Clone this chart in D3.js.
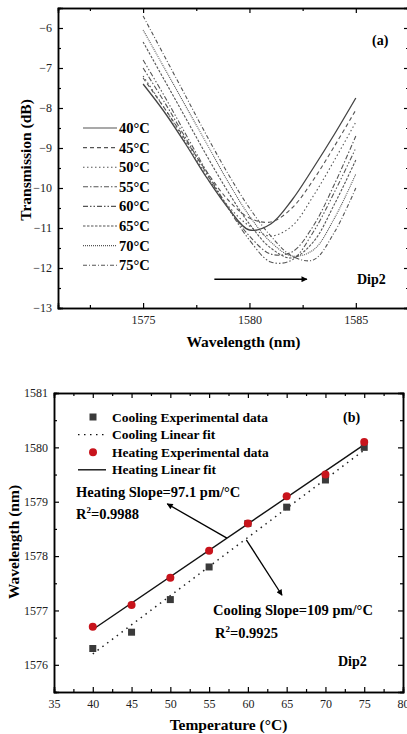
<!DOCTYPE html>
<html>
<head>
<meta charset="utf-8">
<script src="https://cdn.jsdelivr.net/npm/d3@7"></script>
<style>
  body { margin: 0; background: #fff; }
  svg text { font-family: "Liberation Serif", "Times New Roman", serif; }
</style>
</head>
<body>
<div id="chart"></div>
<script>
// ---- data panel (a): transmission spectra
const wavelengths = [1575, 1576, 1577, 1578, 1579, 1580, 1581, 1582, 1583, 1584, 1585]
const tempLabels = ["40°C", "45°C", "50°C", "55°C", "60°C", "65°C", "70°C", "75°C"]
const t40 = [-7.4, -8.1, -8.9, -9.75, -10.5, -11.05, -10.9, -10.3, -9.5, -8.65, -7.75]
const t45 = [-7.25, -8.0, -8.8, -9.6, -10.3, -10.75, -10.85, -10.5, -9.8, -8.95, -8.05]
const t50 = [-7.2, -8.0, -8.85, -9.7, -10.45, -10.95, -11.2, -10.95, -10.2, -9.3, -8.35]
const t55 = [-7.0, -7.85, -8.75, -9.65, -10.5, -11.2, -11.65, -11.6, -10.95, -9.9, -8.7]
const t60 = [-6.8, -7.7, -8.65, -9.6, -10.5, -11.3, -11.85, -11.8, -11.1, -10.1, -9.0]
const t65 = [-6.35, -7.3, -8.25, -9.2, -10.1, -10.9, -11.5, -11.75, -11.35, -10.4, -9.3]
const t70 = [-6.05, -7.0, -7.95, -8.9, -9.85, -10.7, -11.35, -11.7, -11.55, -10.75, -9.65]
const t75 = [-5.7, -6.7, -7.7, -8.7, -9.65, -10.5, -11.2, -11.7, -11.8, -11.1, -10.0]
const spectra = [t40, t45, t50, t55, t60, t65, t70, t75]

// ---- data panel (b): dip wavelength vs temperature
const tempC = [40, 45, 50, 55, 60, 65, 70, 75]
const heatingWl = [1576.7, 1577.1, 1577.6, 1578.1, 1578.6, 1579.1, 1579.5, 1580.1]
const coolingWl = [1576.3, 1576.6, 1577.2, 1577.8, 1578.6, 1578.9, 1579.4, 1580.0]
const fitT = [40, 75]
const heatingFitWl = [1576.65, 1580.05]
const coolingFitWl = [1576.2, 1579.95]
const legendB = ["Cooling Experimental data", "Cooling Linear fit", "Heating Experimental data", "Heating Linear fit"]

// ----------------------------------------------------------
const width = 407
const height = 734
const serif = '"Liberation Serif", "Times New Roman", serif'
const dashes = ["none", "4,3", "1.5,2.5", "5,2,1.5,2", "5,2,1.5,2,1.5,2", "2.5,1.5", "1,1", "4,2,1,2"]

const svg = d3.select("div#chart").append("svg").attr("width", width).attr("height", height)
    .style("font-family", serif)

svg.append("defs").append("marker")
    .attr("id", "arrow").attr("viewBox", "0 0 10 10")
    .attr("refX", 9).attr("refY", 5)
    .attr("markerWidth", 8).attr("markerHeight", 6)
    .attr("markerUnits", "userSpaceOnUse")
    .attr("orient", "auto")
  .append("path").attr("d", "M0,0 L10,5 L0,10 z").attr("fill", "black")

// draws frame with inward ticks on all four sides
function frame(g, x, y, w, h, xMajor, xMinor, yMajor, yMinor, xFmt, yFmt) {
    const font = "12px"
    const bottom = g.append("g").attr("transform", `translate(0, ${h})`)
        .call(d3.axisBottom(x).tickValues(xMajor).tickSize(-5).tickPadding(7).tickFormat(xFmt))
    g.append("g").attr("transform", `translate(0, ${h})`)
        .call(d3.axisBottom(x).tickValues(xMinor).tickSize(-3).tickFormat(""))
    g.append("g").call(d3.axisTop(x).tickValues(xMajor).tickSize(-5).tickFormat(""))
    g.append("g").call(d3.axisTop(x).tickValues(xMinor).tickSize(-3).tickFormat(""))

    const left = g.append("g")
        .call(d3.axisLeft(y).tickValues(yMajor).tickSize(-5).tickPadding(6).tickFormat(yFmt))
    g.append("g").call(d3.axisLeft(y).tickValues(yMinor).tickSize(-3).tickFormat(""))
    g.append("g").attr("transform", `translate(${w}, 0)`)
        .call(d3.axisRight(y).tickValues(yMajor).tickSize(-5).tickFormat(""))
    g.append("g").attr("transform", `translate(${w}, 0)`)
        .call(d3.axisRight(y).tickValues(yMinor).tickSize(-3).tickFormat(""))

    g.selectAll("g").attr("font-family", serif)
    bottom.selectAll("text").style("font-size", font).style("font-family", serif).attr("fill", "#222")
    left.selectAll("text").style("font-size", font).style("font-family", serif).attr("fill", "#222")
    g.selectAll(".domain").attr("stroke", "black").attr("stroke-width", 1.5)
    g.selectAll(".tick line").attr("stroke", "black").attr("stroke-width", 1.2)
}

// ================= panel (a) =================
const mA = {left: 58, top: 8, right: 409, bottom: 308}
const wA = mA.right - mA.left, hA = mA.bottom - mA.top
const gA = svg.append("g").attr("transform", `translate(${mA.left}, ${mA.top})`)
const xA = d3.scaleLinear().domain([1571, 1587.5]).range([0, wA])
const yA = d3.scaleLinear().domain([-13, -5.5]).range([hA, 0])

frame(gA, xA, yA, wA, hA,
    [1575, 1580, 1585], [1572.5, 1577.5, 1582.5],
    d3.range(-13, -5, 1), d3.range(-12.5, -5.5, 1),
    d3.format("d"), d3.format("d"))

const lineA = d3.line().x((d, i) => xA(wavelengths[i])).y(d => yA(d)).curve(d3.curveCatmullRom)
gA.selectAll("path.spec").data(spectra).enter().append("path")
    .attr("class", "spec")
    .attr("d", lineA)
    .attr("fill", "none")
    .attr("stroke", (d, i) => i == 0 ? "#444" : "#555")
    .attr("stroke-width", (d, i) => i == 0 ? 1.3 : 1.1)
    .attr("stroke-dasharray", (d, i) => dashes[i])

// legend (a)
const legA = gA.append("g").attr("transform", `translate(${83 - mA.left}, ${128 - mA.top})`)
tempLabels.forEach((t, i) => {
    const row = legA.append("g").attr("transform", `translate(0, ${i * 19.6})`)
    row.append("line").attr("x1", 0).attr("x2", 34).attr("y1", 0).attr("y2", 0)
        .attr("stroke", "#555").attr("stroke-width", 1.1).attr("stroke-dasharray", dashes[i])
    row.append("text").text(t).attr("x", 36).attr("y", 5)
        .style("font-size", "14.5px").style("font-weight", "bold")
})

gA.append("text").text("(a)").attr("x", 372 - mA.left).attr("y", 45 - mA.top)
    .style("font-size", "14px").style("font-weight", "bold")
gA.append("text").text("Dip2").attr("x", 357 - mA.left).attr("y", 284 - mA.top)
    .style("font-size", "14px").style("font-weight", "bold")
gA.append("line")
    .attr("x1", xA(1578.35)).attr("x2", xA(1582.7))
    .attr("y1", yA(-12.28)).attr("y2", yA(-12.28))
    .attr("stroke", "black").attr("stroke-width", 1.6).attr("marker-end", "url(#arrow)")

svg.append("text").text("Transmission (dB)")
    .attr("transform", `translate(31, ${mA.top + 152}) rotate(-90)`)
    .attr("text-anchor", "middle")
    .style("font-size", "15.5px").style("font-weight", "bold")
svg.append("text").text("Wavelength (nm)")
    .attr("x", mA.left + xA(1580) - 6).attr("y", 347)
    .attr("text-anchor", "middle")
    .style("font-size", "15.5px").style("font-weight", "bold")

// ================= panel (b) =================
const mB = {left: 54, top: 393, right: 403, bottom: 692}
const wB = mB.right - mB.left, hB = mB.bottom - mB.top
const gB = svg.append("g").attr("transform", `translate(${mB.left}, ${mB.top})`)
const xB = d3.scaleLinear().domain([35, 80]).range([0, wB])
const yB = d3.scaleLinear().domain([1575.5, 1581]).range([hB, 0])

frame(gB, xB, yB, wB, hB,
    d3.range(35, 81, 5), d3.range(37.5, 80, 5),
    d3.range(1576, 1581.1, 1), d3.range(1575.5, 1581, 1),
    d3.format("d"), d3.format("d"))

const fitLine = d3.line().x((d, i) => xB(fitT[i])).y(d => yB(d))
gB.append("path").datum(coolingFitWl).attr("d", fitLine)
    .attr("fill", "none").attr("stroke", "#222").attr("stroke-width", 1.5).attr("stroke-dasharray", "1.5,4.5")
gB.append("path").datum(heatingFitWl).attr("d", fitLine)
    .attr("fill", "none").attr("stroke", "#111").attr("stroke-width", 1.4)

gB.selectAll("rect.cool").data(coolingWl).enter().append("rect")
    .attr("class", "cool")
    .attr("x", (d, i) => xB(tempC[i]) - 3.5).attr("y", d => yB(d) - 3.5)
    .attr("width", 7).attr("height", 7).attr("fill", "#3a3a3a")
gB.selectAll("circle.heat").data(heatingWl).enter().append("circle")
    .attr("class", "heat")
    .attr("cx", (d, i) => xB(tempC[i])).attr("cy", d => yB(d))
    .attr("r", 4).attr("fill", "#c8141c")

// legend (b)
const legB = gB.append("g").attr("transform", `translate(${93 - mB.left}, ${417 - mB.top})`)
legendB.forEach((t, i) => {
    const row = legB.append("g").attr("transform", `translate(0, ${i * 17.6})`)
    if (i == 0) row.append("rect").attr("x", -3.5).attr("y", -3.5).attr("width", 7).attr("height", 7).attr("fill", "#3a3a3a")
    if (i == 2) row.append("circle").attr("r", 4).attr("fill", "#c8141c")
    if (i == 1 || i == 3) row.append("line").attr("x1", -15).attr("x2", 13).attr("y1", 0).attr("y2", 0)
        .attr("stroke", "#111").attr("stroke-width", 1.4).attr("stroke-dasharray", i == 1 ? "1.5,4.5" : "none")
    row.append("text").text(t).attr("x", 19).attr("y", 4.5)
        .style("font-size", "13.5px").style("font-weight", "bold")
})

gB.append("text").text("(b)").attr("x", 343 - mB.left).attr("y", 422 - mB.top)
    .style("font-size", "14px").style("font-weight", "bold")
gB.append("text").text("Dip2").attr("x", 338 - mB.left).attr("y", 666 - mB.top)
    .style("font-size", "14px").style("font-weight", "bold")

// slope annotations
gB.append("text").attr("x", 76 - mB.left).attr("y", 497 - mB.top)
    .style("font-size", "14.5px").style("font-weight", "bold")
    .text("Heating Slope=97.1 pm/°C")
const heatR = gB.append("text").attr("x", 76 - mB.left).attr("y", 519 - mB.top)
    .style("font-size", "14.5px").style("font-weight", "bold")
heatR.append("tspan").text("R")
heatR.append("tspan").text("2").attr("dy", -6).style("font-size", "9px")
heatR.append("tspan").text("=0.9988").attr("dy", 6)

gB.append("text").attr("x", 213 - mB.left).attr("y", 615 - mB.top)
    .style("font-size", "14.5px").style("font-weight", "bold")
    .text("Cooling Slope=109 pm/°C")
const coolR = gB.append("text").attr("x", 215 - mB.left).attr("y", 638 - mB.top)
    .style("font-size", "14.5px").style("font-weight", "bold")
coolR.append("tspan").text("R")
coolR.append("tspan").text("2").attr("dy", -6).style("font-size", "9px")
coolR.append("tspan").text("=0.9925").attr("dy", 6)

gB.append("line")
    .attr("x1", xB(57.3)).attr("y1", yB(1578.33)).attr("x2", xB(49.6)).attr("y2", yB(1578.96))
    .attr("stroke", "black").attr("stroke-width", 1.3).attr("marker-end", "url(#arrow)")
gB.append("line")
    .attr("x1", xB(59.8)).attr("y1", yB(1578.3)).attr("x2", xB(64.4)).attr("y2", yB(1577.28))
    .attr("stroke", "black").attr("stroke-width", 1.3).attr("marker-end", "url(#arrow)")

svg.append("text").text("Wavelength (nm)")
    .attr("transform", `translate(19, ${mB.top + 149}) rotate(-90)`)
    .attr("text-anchor", "middle")
    .style("font-size", "15.5px").style("font-weight", "bold")
svg.append("text").text("Temperature (°C)")
    .attr("x", mB.left + xB(57.5)).attr("y", 730)
    .attr("text-anchor", "middle")
    .style("font-size", "15.5px").style("font-weight", "bold")
</script>
</body>
</html>
